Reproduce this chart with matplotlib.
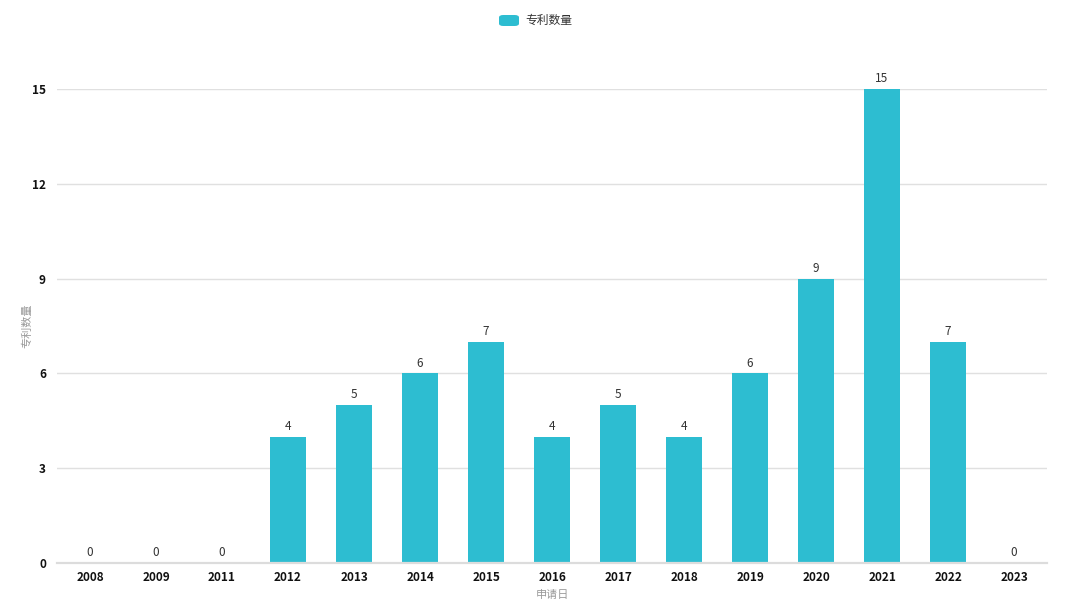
import matplotlib.pyplot as plt
import numpy as np
from matplotlib.patches import FancyBboxPatch

plt.rcParams['font.family'] = ['Noto Sans CJK SC', 'DejaVu Sans']

years = ['2008', '2009', '2011', '2012', '2013', '2014', '2015', '2016',
         '2017', '2018', '2019', '2020', '2021', '2022', '2023']
counts = [0, 0, 0, 4, 5, 6, 7, 4, 5, 4, 6, 9, 15, 7, 0]
yticks = [0, 3, 6, 9, 12, 15]

bar_color = '#2dbdd1'

fig = plt.figure(figsize=(10.82, 6.11), dpi=100)
ax = fig.add_axes([0.0527, 0.0786, 0.915, 0.7757])

x = np.arange(len(years))
bars = ax.bar(x, counts, width=0.54, color=bar_color, zorder=3)

for xi, v in zip(x, counts):
    ax.text(xi, v + 0.12, str(v), ha='center', va='bottom', fontsize=8.5, color='#333333')

ax.set_xlim(-0.5, len(years) - 0.5)
ax.set_ylim(0, 15)
ax.set_xticks(x)
ax.set_xticklabels(years, fontsize=8.5, fontweight='bold', color='#111111')
ax.set_yticks(yticks)
ax.set_yticklabels([str(t) for t in yticks], fontsize=8.5, fontweight='bold', color='#111111')
ax.tick_params(axis='x', length=0, pad=6)
ax.tick_params(axis='y', length=0, pad=8)

ax.grid(axis='y', color='#e0e0e0', linewidth=1, zorder=0)
for s in ['top', 'right', 'left']:
    ax.spines[s].set_visible(False)
ax.spines['bottom'].set_color('#dcdcdc')
ax.spines['bottom'].set_linewidth(1.6)
ax.spines['bottom'].set_zorder(4)

ax.set_xlabel('申请日', fontsize=8, color='#999999', labelpad=4)
ax.set_ylabel('专利数量', fontsize=8, color='#999999')
ax.yaxis.set_label_coords(-25 / 990, 0.5)

# legend at top centre
patch = FancyBboxPatch((499 / 1082, 1 - 26 / 611), 20 / 1082, 11 / 611,
                       boxstyle='round,pad=0,rounding_size=0.004',
                       transform=fig.transFigure, facecolor=bar_color,
                       edgecolor='none')
fig.patches.append(patch)
fig.text(525 / 1082, 1 - 20 / 611, '专利数量', fontsize=8.5, color='#333333',
         ha='left', va='center')

fig.savefig('out.png', dpi=100)
